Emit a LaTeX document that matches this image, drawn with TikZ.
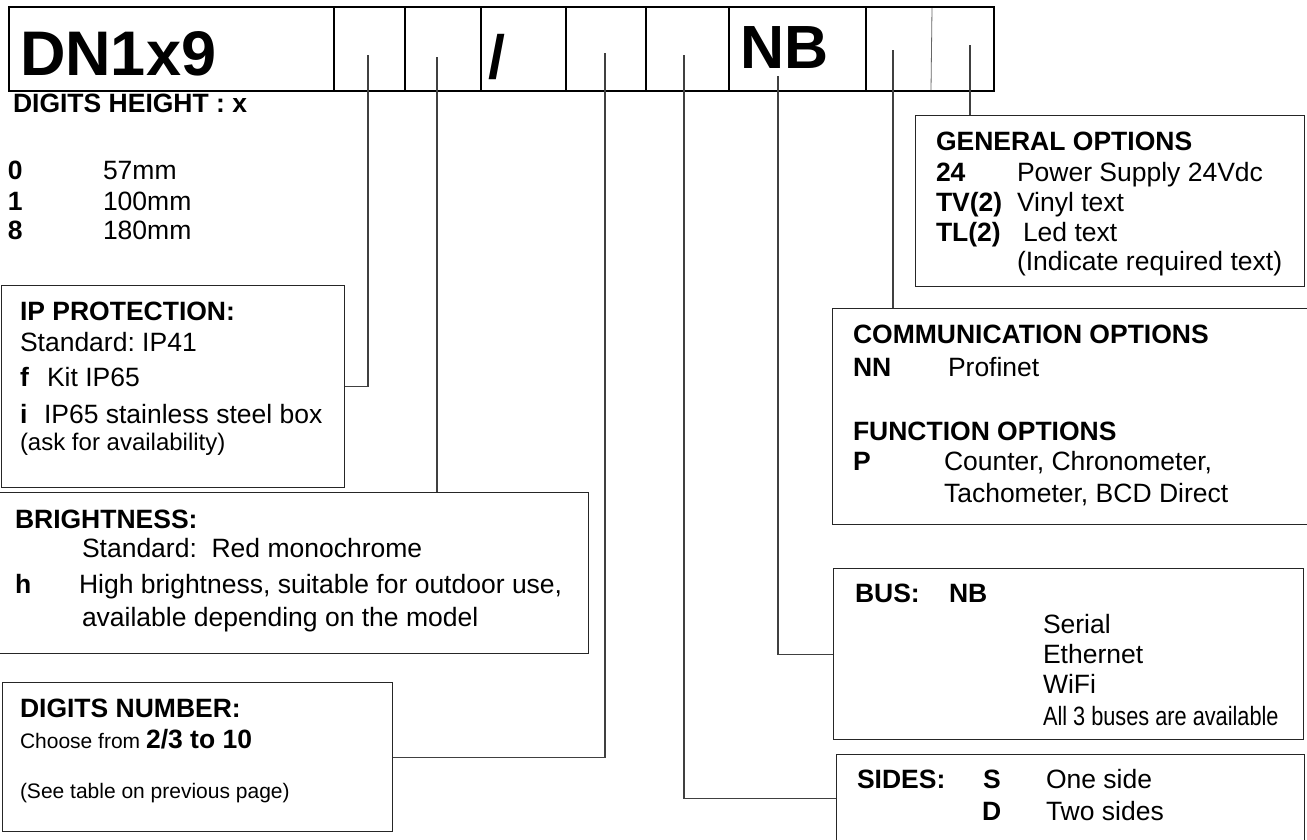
\documentclass[tikz,border=0pt]{standalone}
\usepackage{fontspec}
\setmainfont{Liberation Sans}
\newfontfamily\narrowfont[FakeStretch=0.82]{Liberation Sans}
\newcommand{\fsN}{\fontsize{26.5}{30}\selectfont}
\newcommand{\fsS}{\fontsize{21}{25}\selectfont}
\newcommand{\fsA}{\fontsize{24}{28}\selectfont}
\newcommand{\fsBig}{\fontsize{61}{70}\selectfont}
\newcommand{\fsBigger}{\fontsize{63}{70}\selectfont}
\frenchspacing
\begin{document}
\begin{tikzpicture}[x=1pt,y=-1pt,
  txt/.style={anchor=base west, inner sep=0pt, outer sep=0pt, font=\fsN},
  btxt/.style={txt, font=\fsN\bfseries},
  bigtxt/.style={txt, font=\fsBig\bfseries},
  box/.style={draw=black!85, line width=1.3pt, anchor=north west, inner sep=0pt},
  conn/.style={draw=black!75, line width=1.2pt},
  form/.style={line width=2.4pt}]
\useasboundingbox (0,0) rectangle (1307,839);
\fill[white] (0,0) rectangle (1307,839);

% ---- top code row ----
\draw[form] (9,7) rectangle (994,91);
\foreach \xx in {334,405,481,566,646,729,866}
  \draw[form] (\xx,7) -- (\xx,91);
\draw[black!60, line width=0.8pt] (932,8) -- (931,90);
\node[bigtxt, font=\fsBigger\bfseries] (code) at (20,75) {DN1x9};
\node[bigtxt] (slash) at (488,78) {/};
\node[bigtxt] (nbcode) at (740,68) {NB};

% connector start points
\coordinate (cip) at (368,55);
\coordinate (cbr) at (437,57);
\coordinate (cdn) at (605,53);
\coordinate (csd) at (684,55);
\coordinate (cnb) at (778,76);
\coordinate (cco) at (893,50);
\coordinate (cge) at (970,45);

% ---- boxes ----
\node[box, minimum width=343pt, minimum height=202pt] (ip) at (1,285) {};
\node[box, minimum width=591pt, minimum height=161pt] (br) at (-3,492) {};
\node[box, minimum width=390pt, minimum height=149pt] (dn) at (2,682) {};
\node[box, minimum width=389pt, minimum height=171pt] (gen) at (915,115) {};
\node[box, minimum width=480pt, minimum height=216pt] (comm) at (832,308) {};
\node[box, minimum width=470pt, minimum height=171pt] (bus) at (833,568) {};
\node[box, minimum width=468pt, minimum height=88pt] (sides) at (836,754) {};

% ---- connectors ----
\draw[conn] (cip) |- (ip.east);
\draw[conn] (cbr) -- (cbr |- br.north);
\draw[conn] (cdn) |- (dn.east);
\draw[conn] (csd) |- (sides.west);
\draw[conn] (cnb) |- (bus.west);
\draw[conn] (cco) -- (cco |- comm.north);
\draw[conn] (cge) -- (cge |- gen.north);

% ---- digits height ----
\node[btxt] (dhT) at (13,112) {DIGITS HEIGHT : x};
\node[btxt] (dh0) at (8,179) {0};
\node[txt] (dh0v) at (103,179) {57mm};
\node[btxt] (dh1) at (8,210) {1};
\node[txt] (dh1v) at (103,210) {100mm};
\node[btxt] (dh8) at (8,239) {8};
\node[txt] (dh8v) at (103,239) {180mm};

% ---- IP protection ----
\node[btxt] (ipT) at (20,320) {IP PROTECTION:};
\node[txt] (ipS) at (20,351) {Standard: IP41};
\node[btxt] (ipf) at (20,386) {f};
\node[txt] (ipfv) at (47,386) {Kit IP65};
\node[btxt] (ipi) at (20,423) {i};
\node[txt] (ipiv) at (44,423) {IP65 stainless steel box};
\node[txt, font=\fsA] (ipa) at (20,450) {(ask for availability)};

% ---- brightness ----
\node[btxt] (brT) at (15,528) {BRIGHTNESS:};
\node[txt] (brS) at (82,557) {Standard:\ \ Red monochrome};
\node[btxt] (brh) at (15,593) {h};
\node[txt] (brh1) at (79,593) {High brightness, suitable for outdoor use,};
\node[txt] (brh2) at (82,626) {available depending on the model};

% ---- digits number ----
\node[btxt] (dnT) at (20,717) {DIGITS NUMBER:};
\node[txt, font=\fsS] (dnC) at (20,748) {Choose from {\fsN\bfseries 2/3 to 10}};
\node[txt, font=\fsS] (dnS) at (20,798) {(See table on previous page)};

% ---- general options ----
\node[btxt] (geT) at (936,150) {GENERAL OPTIONS};
\node[btxt] (ge24) at (936,181) {24};
\node[txt] (ge24v) at (1017,181) {Power Supply 24Vdc};
\node[btxt] (geTV) at (936,211) {TV(2)};
\node[txt] (geTVv) at (1017,211) {Vinyl text};
\node[btxt] (geTL) at (936,241) {TL(2)};
\node[txt] (geTLv) at (1023,241) {Led text};
\node[txt] (geI) at (1017,270) {(Indicate required text)};

% ---- communication / function ----
\node[btxt] (coT) at (853,343) {COMMUNICATION OPTIONS};
\node[btxt] (coNN) at (853,376) {NN};
\node[txt] (coNNv) at (948,376) {Profinet};
\node[btxt] (fuT) at (853,440) {FUNCTION OPTIONS};
\node[btxt] (fuP) at (853,470) {P};
\node[txt] (fuP1) at (944,470) {Counter, Chronometer,};
\node[txt] (fuP2) at (944,502) {Tachometer, BCD Direct};

% ---- bus ----
\node[btxt] (buT) at (855,602) {BUS:};
\node[btxt] (buNB) at (949,602) {NB};
\node[txt] (bu1) at (1043,633) {Serial};
\node[txt] (bu2) at (1043,663) {Ethernet};
\node[txt] (bu3) at (1043,693) {WiFi};
\node[txt, font=\fsN\narrowfont] (bu4) at (1043,725) {All 3 buses are available};

% ---- sides ----
\node[btxt] (siT) at (857,788) {SIDES:};
\node[btxt] (siS) at (983,788) {S};
\node[txt] (siSv) at (1046,788) {One side};
\node[btxt] (siD) at (982,820) {D};
\node[txt] (siDv) at (1046,820) {Two sides};
\end{tikzpicture}
\end{document}
